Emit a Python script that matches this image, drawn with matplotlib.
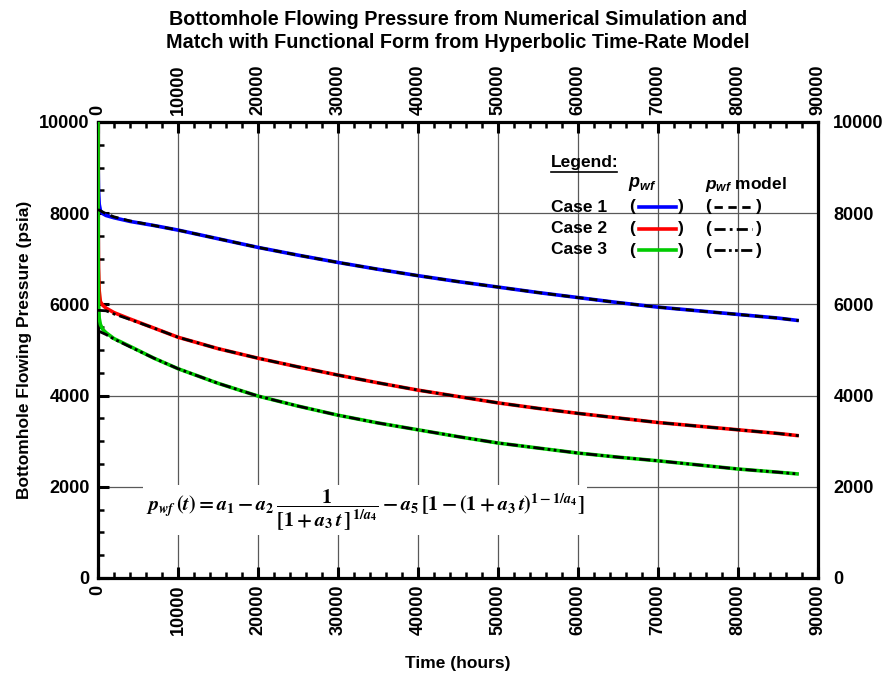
import matplotlib
matplotlib.use("Agg")
import matplotlib.pyplot as plt
from matplotlib.ticker import MultipleLocator

plt.rcParams["font.family"] = ["Liberation Sans", "DejaVu Sans"]
plt.rcParams["font.weight"] = "bold"
plt.rcParams["mathtext.fontset"] = "custom"
plt.rcParams["mathtext.it"] = "Liberation Sans:italic:bold"
plt.rcParams["mathtext.rm"] = "Liberation Sans:bold"

# ---- simulated pwf (psia) vs time (hours) ----
t_sim = [0, 20, 60, 150, 300, 600, 1000, 2000, 4000, 7000, 10000, 15000, 20000,
         25000, 30000, 35000, 40000, 45000, 50000, 55000, 60000, 65000, 70000,
         75000, 80000, 85000, 87600]
p1_sim = [10000, 9000, 8500, 8200, 8060, 7990, 7950, 7900, 7820, 7730, 7630, 7440,
          7250, 7080, 6920, 6770, 6630, 6500, 6380, 6260, 6150, 6040, 5940, 5860,
          5780, 5700, 5645]
p2_sim = [10000, 7800, 6800, 6300, 6060, 5980, 5920, 5820, 5680, 5480, 5280, 5030,
          4820, 4630, 4450, 4280, 4120, 3980, 3840, 3720, 3610, 3510, 3410, 3330,
          3250, 3170, 3120]
p3_sim = [10000, 7000, 6000, 5700, 5560, 5450, 5380, 5250, 5080, 4820, 4590, 4270,
          3990, 3770, 3570, 3400, 3250, 3100, 2960, 2850, 2740, 2650, 2570, 2480,
          2390, 2320, 2280]

# ---- hyperbolic-form model fits ----
t_mod = [0, 1000, 2000, 4000, 7000, 10000, 15000, 20000, 25000, 30000, 35000,
         40000, 45000, 50000, 55000, 60000, 65000, 70000, 75000, 80000, 85000, 87600]
p1_mod = [8080, 7990, 7920, 7830, 7730, 7630, 7440, 7250, 7080, 6920, 6770, 6630,
          6500, 6380, 6260, 6150, 6040, 5940, 5860, 5780, 5700, 5645]
p2_mod = [5870, 5860, 5790, 5670, 5480, 5280, 5030, 4820, 4630, 4450, 4280, 4120,
          3980, 3840, 3720, 3610, 3510, 3410, 3330, 3250, 3170, 3120]
p3_mod = [5420, 5340, 5240, 5070, 4820, 4590, 4270, 3990, 3770, 3570, 3400, 3250,
          3100, 2960, 2850, 2740, 2650, 2570, 2480, 2390, 2320, 2280]

colors = ["#0000ff", "#ff0000", "#00cc00"]
dash_styles = [(0, (3, 2)), (0, (4, 1.5, 1, 1.5)), (0, (4, 1.2, 1, 1.2, 1, 1.2))]

fig = plt.figure(figsize=(8.87, 6.77), dpi=100)
ax = fig.add_axes([98 / 887, 1 - 578 / 677, 720 / 887, 456 / 677])

for p, c in zip([p1_sim, p2_sim, p3_sim], colors):
    ax.plot(t_sim, p, color=c, lw=2.6, solid_capstyle="butt", zorder=3)
for p, ls in zip([p1_mod, p2_mod, p3_mod], dash_styles):
    ax.plot(t_mod, p, color="black", lw=2.0, linestyle=ls, zorder=4)

ax.set_xlim(0, 90000)
ax.set_ylim(0, 10000)
ax.xaxis.set_major_locator(MultipleLocator(10000))
ax.xaxis.set_minor_locator(MultipleLocator(2000))
ax.yaxis.set_major_locator(MultipleLocator(2000))
ax.yaxis.set_minor_locator(MultipleLocator(500))
ax.grid(True, which="major", color="0.35", lw=0.9, zorder=1)
ax.tick_params(which="both", direction="in", top=True, right=True,
               labeltop=True, labelright=False, labelsize=13)
ax.tick_params(which="major", length=8, width=2.2)
ax.tick_params(which="minor", length=4.5, width=1.8)
ax.tick_params(axis="x", labelrotation=90, pad=5)
ax.tick_params(axis="y", pad=6)
for s in ax.spines.values():
    s.set_linewidth(2.3)

# right-hand labels sit further out than the left ones
rax = ax.twinx()
rax.set_ylim(0, 10000)
rax.yaxis.set_major_locator(MultipleLocator(2000))
rax.tick_params(axis="y", which="both", length=0, pad=11, labelsize=13)
rax.spines[:].set_visible(False)

ax.set_xlabel("Time (hours)", fontsize=12.5, fontweight="bold", labelpad=15)
ax.set_ylabel("Bottomhole Flowing Pressure (psia)", fontsize=12.5, fontweight="bold", labelpad=5)

fig.text(0.5165, 1 - 31 / 677,
         "Bottomhole Flowing Pressure from Numerical Simulation and\n"
         "Match with Functional Form from Hyperbolic Time-Rate Model",
         ha="center", va="center", fontsize=14.2, fontweight="bold",
         family=["Liberation Sans Narrow", "Liberation Sans"], linespacing=1.3)

# ---- legend block ----
def fx(px):
    return (px - 98) / 720

def fy(py):
    return (578 - py) / 456

tr = ax.transAxes
ax.text(fx(551), fy(163), "Legend:", transform=tr, fontsize=12.5, va="center", ha="left")
ax.plot([fx(551), fx(617)], [fy(172), fy(172)], transform=tr, color="black", lw=1.2, clip_on=False)
ax.text(fx(628), fy(184), r"$p_{wf}$", transform=tr, fontsize=13, va="center", ha="left")
ax.text(fx(705), fy(184), r"$p_{wf}$ model", transform=tr, fontsize=12.5, va="center", ha="left")
for i, (c, ls) in enumerate(zip(colors, dash_styles)):
    y = fy(207 + 21.5 * i)
    ax.text(fx(551), y, f"Case {i + 1}", transform=tr, fontsize=12.5, va="center", ha="left")
    ax.text(fx(629), y, "(", transform=tr, fontsize=12.5, va="center", ha="left")
    ax.text(fx(678), y, ")", transform=tr, fontsize=12.5, va="center", ha="left")
    ax.plot([fx(639), fx(676)], [y, y], transform=tr, color=c, lw=2.6, zorder=5)
    ax.text(fx(705), y, "(", transform=tr, fontsize=12.5, va="center", ha="left")
    ax.text(fx(756), y, ")", transform=tr, fontsize=12.5, va="center", ha="left")
    ax.plot([fx(714), fx(752)], [y, y], transform=tr, color="black", lw=2.0, linestyle=ls, zorder=5)

eq = (r"$p_{wf}\,(t) = a_1 - a_2\,\dfrac{1}{[1+a_3\,t\,]^{\,1/a_4}}"
      r" - a_5\,[1-(1+a_3\,t)^{1-1/a_4}]$")
ax.text(fx(146), fy(510), eq, transform=tr, fontsize=14.5, ha="left", va="center",
        math_fontfamily="stix", fontweight="normal", zorder=6,
        bbox=dict(facecolor="white", edgecolor="none", pad=2))

fig.savefig("out.png", dpi=100)
